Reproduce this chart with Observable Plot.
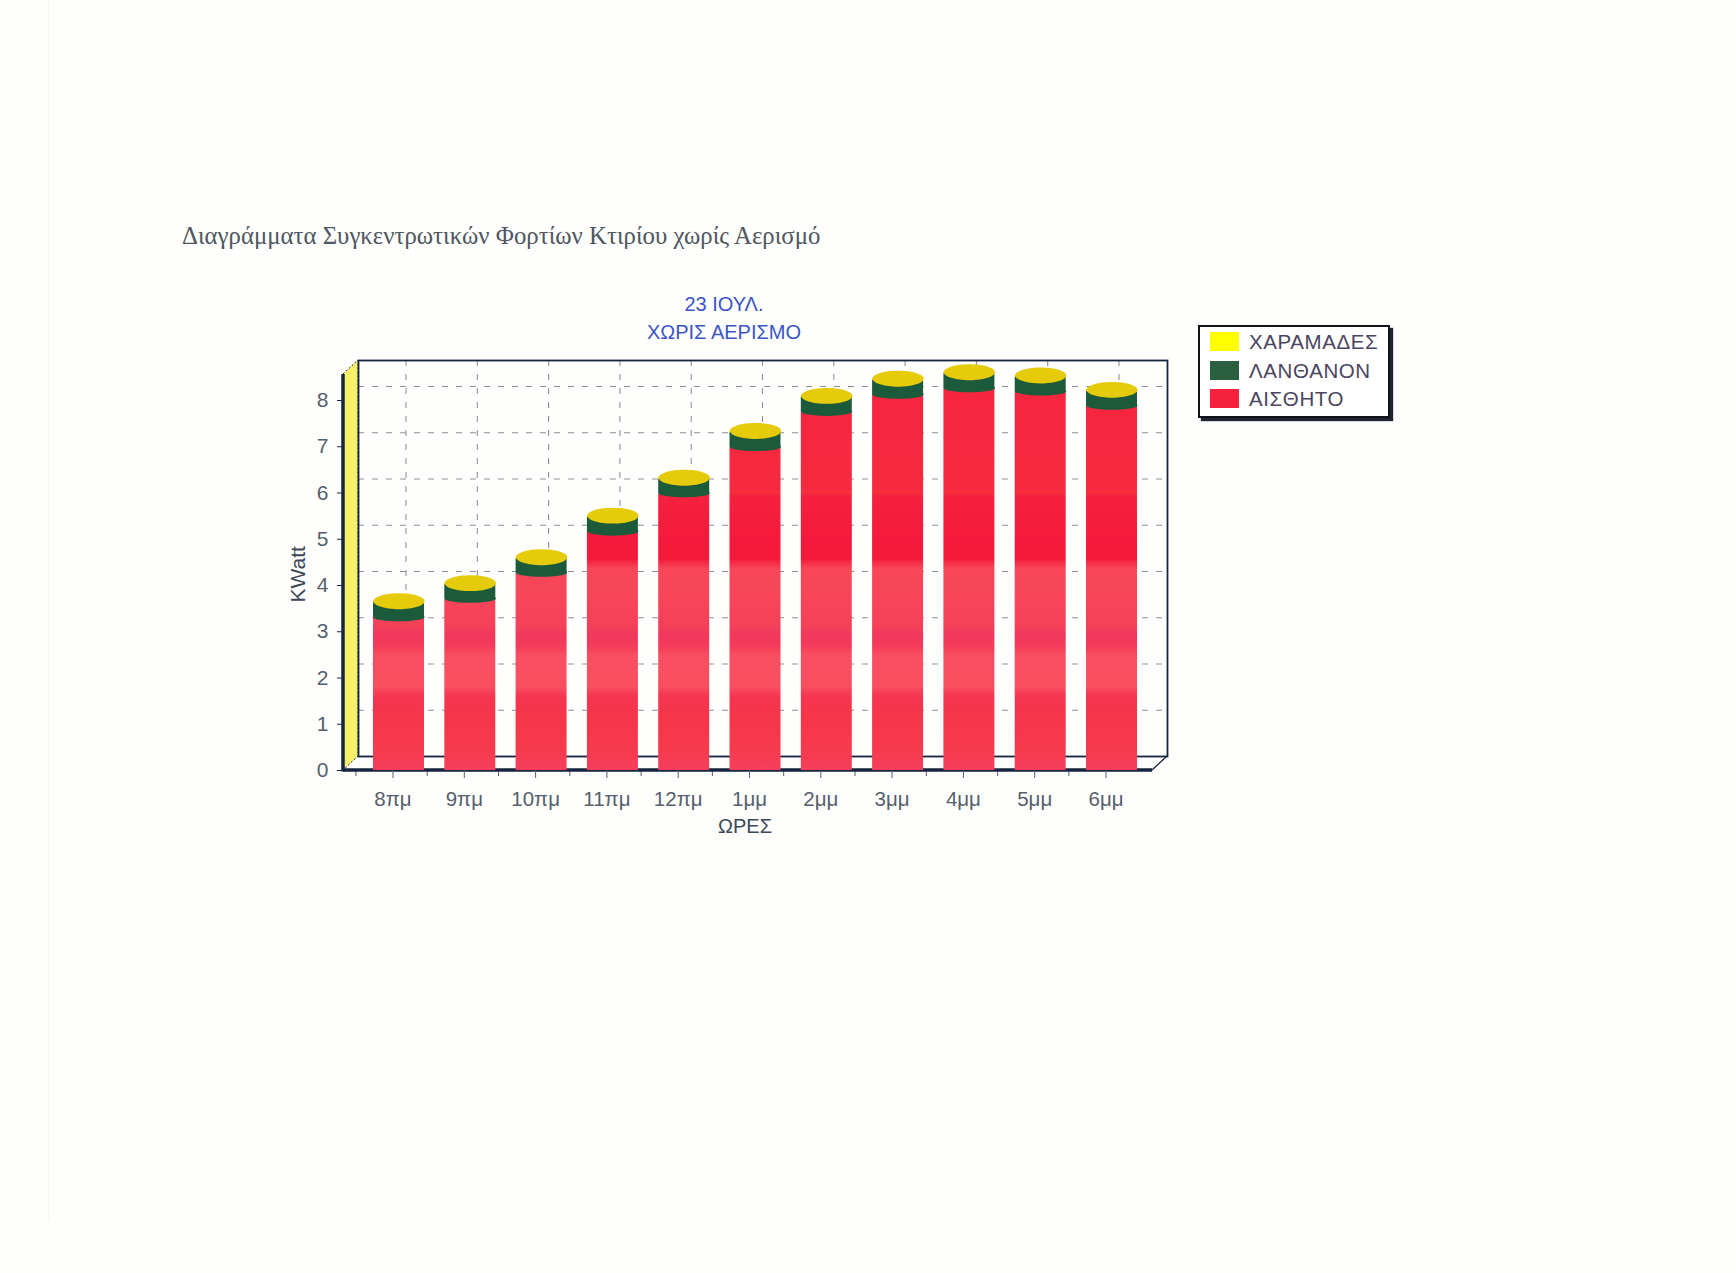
<!DOCTYPE html>
<html lang="el">
<head>
<meta charset="utf-8">
<script src="https://cdn.jsdelivr.net/npm/d3@7"></script>
<script src="https://cdn.jsdelivr.net/npm/@observablehq/plot@0.6"></script>
<style>
html,body{margin:0;padding:0;background:#fefefd;overflow:hidden}
#page{position:relative;width:1736px;height:1273px}
#page svg{display:block}
.abs{position:absolute;white-space:nowrap}
#edge{left:48px;top:0;width:1px;height:1220px;background:#f5f5f3}
#heading{left:182px;top:222px;font:24.8px "Liberation Serif",serif;color:#4f5760}
#ctitle{left:524px;width:400px;top:290px;text-align:center;font:20px/28px "Liberation Sans",sans-serif;color:#3c55c4}
#legend{left:1198px;top:325px;width:188px;height:89px;border:2px solid #10131c;background:#fff;box-shadow:3px 3px 1px #20242e}
.row{position:absolute;left:10px;height:20px;font:20.5px/20px "Liberation Sans",sans-serif;color:#4a4560;letter-spacing:.6px}
.row i{display:inline-block;width:29px;height:19px;margin-right:10px;vertical-align:top}
</style>
</head>
<body>
<div id="page"></div>
<script>
const hours = ["8πμ","9πμ","10πμ","11πμ","12πμ","1μμ","2μμ","3μμ","4μμ","5μμ","6μμ"];
const sensible = [3.30,3.70,4.26,5.15,5.98,6.98,7.74,8.11,8.25,8.18,7.87];
const latent   = [0.33,0.32,0.32,0.33,0.32,0.33,0.33,0.33,0.33,0.33,0.33];
const cracks   = [0.03,0.03,0.03,0.03,0.03,0.03,0.03,0.03,0.03,0.03,0.03];
const seriesNames = ["ΧΑΡΑΜΑΔΕΣ","ΛΑΝΘΑΝΟΝ","ΑΙΣΘΗΤΟ"];
const legendColors = ["#ffff00","#2a6040","#f5213d"];
const yTicks = [0,1,2,3,4,5,6,7,8];
const heading = "Διαγράμματα Συγκεντρωτικών Φορτίων Κτιρίου χωρίς Αερισμό";
const chartTitle = ["23 ΙΟΥΛ.","ΧΩΡΙΣ ΑΕΡΙΣΜΟ"];

const rows = hours.map((hour,i)=>({hour,
  redTop:sensible[i],
  greenTop:sensible[i]+latent[i],
  yellowTop:sensible[i]+latent[i]+cracks[i]}));

const ellipse = ratio => ({draw(ctx,size){
  const rx=Math.sqrt(size/Math.PI), ry=rx*ratio, k=0.5523;
  ctx.moveTo(-rx,0);
  ctx.bezierCurveTo(-rx,-ry*k,-rx*k,-ry,0,-ry);
  ctx.bezierCurveTo(rx*k,-ry,rx,-ry*k,rx,0);
  ctx.bezierCurveTo(rx,ry*k,rx*k,ry,0,ry);
  ctx.bezierCurveTo(-rx*k,ry,-rx,ry*k,-rx,0);
  ctx.closePath();
}});

const ML=343, MT=374, MR=584, MB=503, DX=15, DY=-14;
const navy="#16243f", gridC="#8e9297", textC="#565f6c";
const texture=[[0,"#f6243f"],[.15,"#f7263f"],[.318,"#f62a3e"],[.325,"#f7303c"],[.335,"#f6203e"],[.40,"#f51c3e"],[.485,"#f5183b"],[.51,"#f84758"],[.60,"#f7445a"],[.65,"#f44059"],[.675,"#f1365c"],[.70,"#f53d5b"],[.72,"#fa4e62"],[.795,"#fa4e61"],[.82,"#f53550"],[.86,"#f6354a"],[.95,"#f63a4e"],[1,"#f73f5e"]];

function backdrop(index,scales,values,dims){
  const g=d3.create("svg:g");
  const L=dims.marginLeft, T=dims.marginTop, R=dims.width-dims.marginRight, B=dims.height-dims.marginBottom;
  const grad=g.append("defs").append("linearGradient").attr("id","barTex")
    .attr("gradientUnits","userSpaceOnUse").attr("x1",0).attr("x2",0).attr("y1",B+DY-398).attr("y2",B+1);
  texture.forEach(([o,c])=>grad.append("stop").attr("offset",o).attr("stop-color",c));
  g.append("path").attr("d",`M${L},${T}L${L+DX},${T+DY}L${L+DX},${B+DY}L${L},${B}Z`)
    .attr("fill","#f9f06a").attr("stroke",navy).attr("stroke-dasharray","2 2").attr("stroke-width",1);
  g.append("path").attr("d",`M${R},${B}L${R+DX},${B+DY}`).attr("stroke",navy).attr("stroke-width",1.3).attr("fill","none");
  const bw=scales.x.bandwidth;
  hours.forEach(h=>{
    const cx=scales.x(h)+(typeof bw==="function"?bw():bw)/2-7;
    g.append("line").attr("x1",cx-35.6).attr("x2",cx-35.6).attr("y1",B).attr("y2",B+6).attr("stroke",textC).attr("stroke-width",1);
  });
  g.append("line").attr("x1",L).attr("x2",R).attr("y1",B).attr("y2",B).attr("stroke",navy).attr("stroke-width",3.5);
  g.append("line").attr("x1",L).attr("x2",L).attr("y1",T).attr("y2",B+1.5).attr("stroke",navy).attr("stroke-width",3.5);
  return g.node();
}

const plot = Plot.plot({
  width:1736,height:1273,
  marginLeft:ML,marginTop:MT,marginRight:MR,marginBottom:MB,
  style:{background:"transparent",fontFamily:"Liberation Sans, sans-serif",overflow:"visible"},
  x:{type:"band",domain:hours,range:[362.85,1147.15],paddingInner:.285,paddingOuter:.1425,round:false,axis:null},
  y:{domain:[0,396/46.25],axis:null},
  marks:[
    Plot.ruleY(yTicks.slice(1),{y:d=>d,dx:DX,dy:DY,stroke:gridC,strokeWidth:1.2,strokeDasharray:"6 8"}),
    Plot.ruleX(hours,{x:d=>d,dx:7,dy:DY,stroke:gridC,strokeWidth:1.1,strokeDasharray:"6 8"}),
    backdrop,
    Plot.frame({dx:DX,dy:DY,stroke:navy,strokeWidth:1.8}),
    Plot.barY(rows,{x:"hour",y1:0,y2:"redTop",fill:"url(#barTex)"}),
    Plot.barY(rows,{x:"hour",y1:"redTop",y2:"greenTop",fill:"#1c5a3c"}),
    Plot.dot(rows,{x:"hour",y:"redTop",r:25.6,symbol:ellipse(.17),fill:"#1c5a3c",dy:-1}),
    Plot.barY(rows,{x:"hour",y1:"greenTop",y2:"yellowTop",fill:"#e6cb0a"}),
    Plot.dot(rows,{x:"hour",y:"yellowTop",r:25.6,symbol:ellipse(.31),fill:"#e6cb0a"}),
    Plot.axisY(yTicks,{anchor:"left",label:null,tickSize:6,tickPadding:9,fontSize:21,color:textC,stroke:navy}),
    Plot.axisX({anchor:"bottom",label:null,tickSize:8,tickPadding:13,fontSize:20.5,dx:-6,color:textC,stroke:textC}),
    Plot.text(["KWatt"],{frameAnchor:"left",dx:-45,dy:30,rotate:-90,fontSize:21,fill:"#3d4756"}),
    Plot.text(["ΩΡΕΣ"],{frameAnchor:"bottom",dx:-3,dy:62,fontSize:20,fill:"#3d4756"})
  ]
});

const page=document.getElementById("page");
page.append(plot);
const add=(id,html)=>{const d=document.createElement("div");d.id=id;d.className="abs";d.innerHTML=html;page.append(d);return d;};
add("edge","");
add("heading",heading);
add("ctitle",chartTitle.join("<br>"));
const lg=add("legend","");
const tops=[5,34,62];
seriesNames.forEach((n,i)=>{
  const r=document.createElement("div");r.className="row";r.style.top=tops[i]+"px";
  r.innerHTML=`<i style="background:${legendColors[i]}"></i>${n}`;lg.append(r);
});
</script>
</body>
</html>
